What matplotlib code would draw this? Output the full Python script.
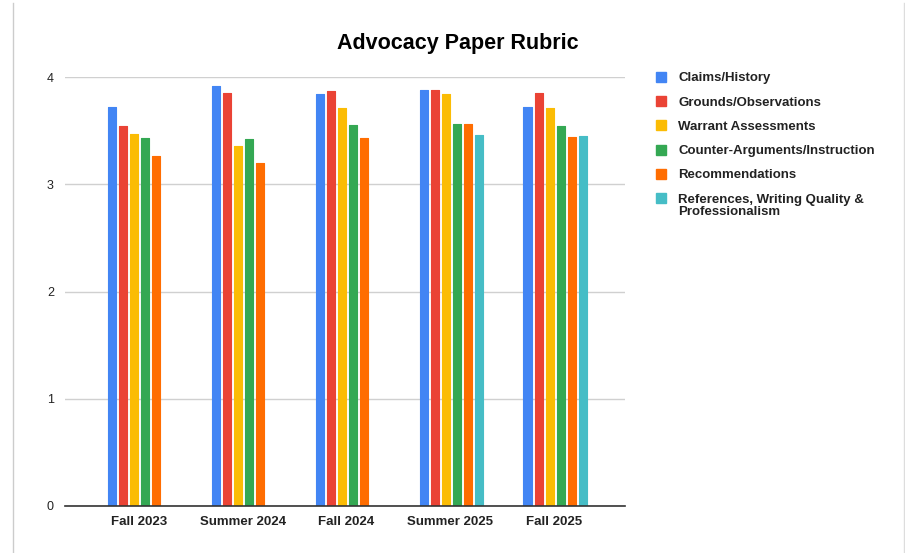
import matplotlib
matplotlib.use("Agg")
import matplotlib.pyplot as plt
import numpy as np
from matplotlib.patches import Rectangle
from matplotlib.lines import Line2D

plt.rcParams['font.family'] = ['Liberation Sans', 'DejaVu Sans']

terms = ["Fall 2023", "Summer 2024", "Fall 2024", "Summer 2025", "Fall 2025"]
series_names = [
    "Claims/History",
    "Grounds/Observations",
    "Warrant Assessments",
    "Counter-Arguments/Instruction",
    "Recommendations",
    "References, Writing Quality &\nProfessionalism",
]
claims = [3.72, 3.92, 3.84, 3.88, 3.72]
grounds = [3.54, 3.85, 3.87, 3.88, 3.85]
warrant = [3.47, 3.36, 3.71, 3.84, 3.71]
counter = [3.43, 3.42, 3.55, 3.56, 3.54]
recommend = [3.26, 3.20, 3.43, 3.56, 3.44]
references = [np.nan, np.nan, np.nan, 3.46, 3.45]
series = [claims, grounds, warrant, counter, recommend, references]
colors = ["#4285F4", "#EA4335", "#FBBC04", "#34A853", "#FF6D01", "#46BDC6"]
y_ticks = [0, 1, 2, 3, 4]

W, H = 905, 553
fig = plt.figure(figsize=(W / 100, H / 100), dpi=100)
ax = fig.add_axes([65 / W, 1 - 506 / H, (625 - 65) / W, (506 - 77) / H])

x = np.arange(len(terms))
slot = 0.106
bar_w = 0.08
for i, (vals, c) in enumerate(zip(series, colors)):
    offs = (i - 2.5) * slot
    ax.bar(x + offs + 0.008, vals, width=bar_w, color=c, edgecolor=c,
           linewidth=0.8, joinstyle="round", zorder=3)

ax.set_xlim(-0.71, 4.68)
ax.set_ylim(0, 4)
ax.set_yticks(y_ticks)
ax.set_yticklabels([str(t) for t in y_ticks], fontsize=9, color="#222222")
ax.set_xticks(x)
ax.set_xticklabels(terms, fontsize=9.5, fontweight="bold", color="#222222")
ax.tick_params(axis="both", length=0)
ax.tick_params(axis="y", pad=8)
ax.tick_params(axis="x", pad=7)
ax.grid(axis="y", color="#d0d0d0", linewidth=1, zorder=0)
for s in ["top", "right", "left"]:
    ax.spines[s].set_visible(False)
ax.spines["bottom"].set_color("#333333")
ax.spines["bottom"].set_linewidth(1.2)
ax.spines["bottom"].set_zorder(4)

fig.text(458 / W, 1 - 43 / H, "Advocacy Paper Rubric", ha="center", va="center",
         fontsize=15.5, fontweight="bold", color="#000000")

# legend drawn on the figure
rows_y = [77, 101, 125, 150, 174, 198]
for name, c, yy in zip(series_names, colors, rows_y):
    fig.patches.append(Rectangle((656 / W, 1 - (yy + 5) / H), 10 / W, 10 / H,
                                 transform=fig.transFigure, color=c))
    if "\n" in name:
        fig.text(678 / W, 1 - (yy - 4) / H, name, ha="left", va="top",
                 fontsize=9.5, fontweight="bold", color="#222222", linespacing=1.0)
    else:
        fig.text(678 / W, 1 - (yy + 1.5) / H, name, ha="left", va="center",
                 fontsize=9.5, fontweight="bold", color="#222222")

# frame lines at left and right edges
fig.add_artist(Line2D([13 / W, 13 / W], [0, 1 - 3 / H], transform=fig.transFigure,
                      color="#cccccc", linewidth=1))
fig.add_artist(Line2D([904 / W, 904 / W], [0, 1 - 3 / H], transform=fig.transFigure,
                      color="#dddddd", linewidth=1))

fig.savefig("out.png", dpi=100)
